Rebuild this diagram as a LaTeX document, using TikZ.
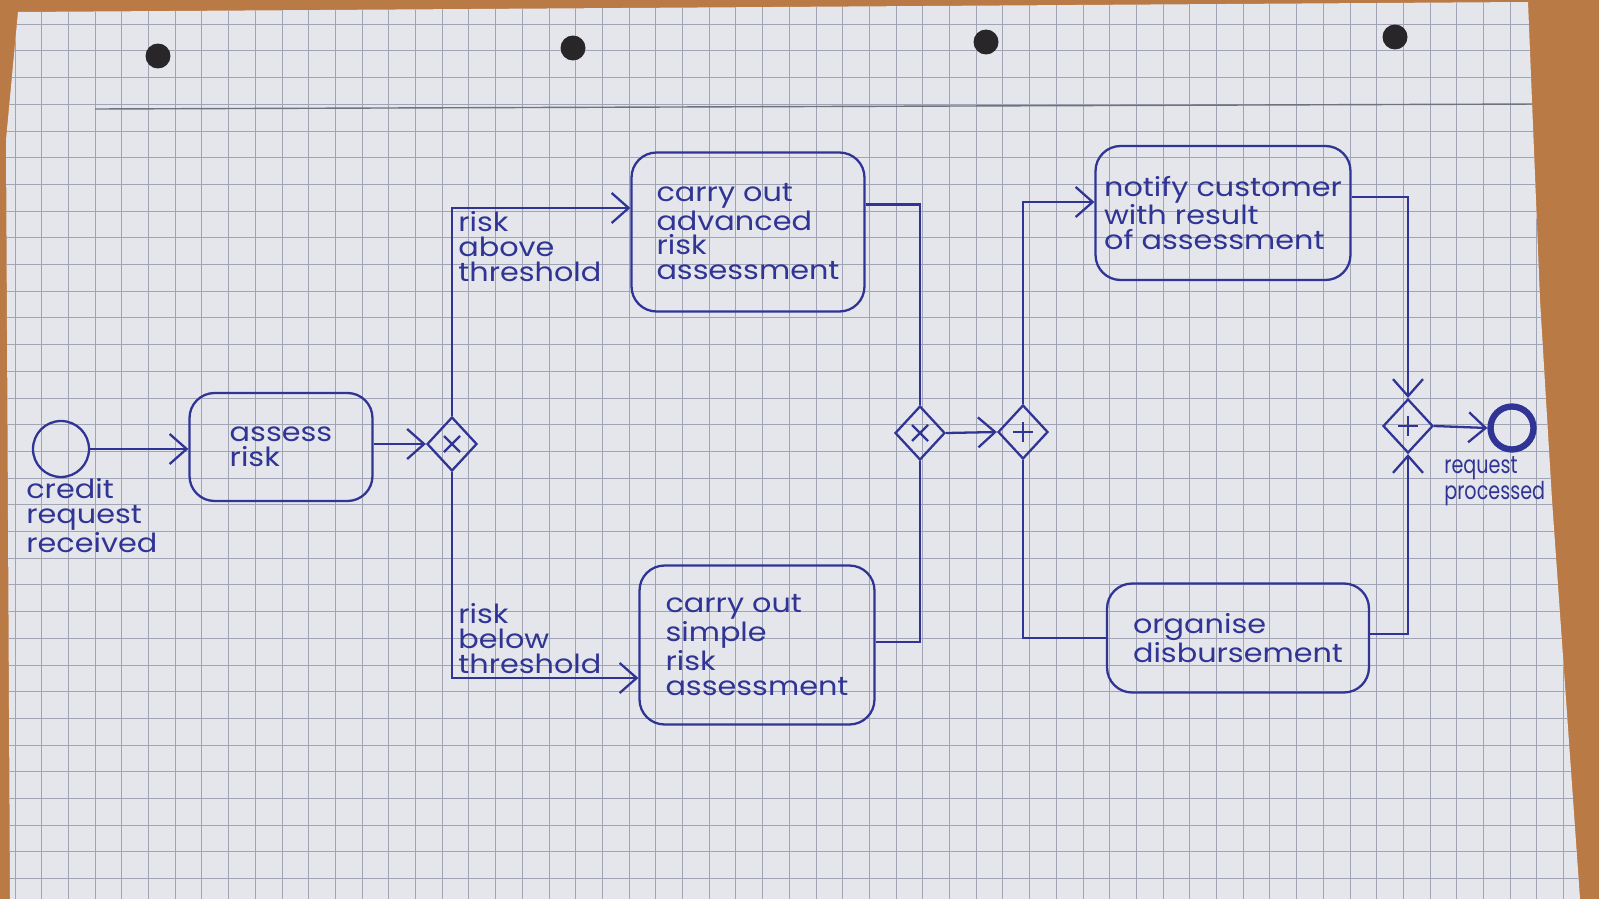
\documentclass[tikz,border=0pt]{standalone}
\usepackage{fontspec}
\setmainfont[FakeStretch=1.15]{Poppins}
\newfontfamily\narrowhand[FakeStretch=0.78]{Poppins}
\usetikzlibrary{shapes.geometric,arrows.meta}
\definecolor{ink}{RGB}{48,52,148}
\definecolor{paper}{RGB}{229,230,236}
\definecolor{gridc}{RGB}{160,164,180}
\definecolor{wood}{RGB}{185,122,69}
\definecolor{holec}{RGB}{40,38,40}
\newcommand\handfont{\fontsize{15}{14.2}\selectfont}
\newcommand\smallhand{\narrowhand\fontsize{14}{13.5}\selectfont}
\begin{document}
\begin{tikzpicture}[x=0.02cm,y=-0.02cm,
  inkline/.style={draw=ink, line width=1.3pt},
  task/.style={draw=ink, line width=1.3pt, rounded corners=0.5cm, align=left, text=ink, font=\handfont, inner sep=0pt},
  gw/.style={diamond, draw=ink, line width=1.3pt, inner sep=0pt, minimum width=1cm, minimum height=1.08cm},
  startevt/.style={circle, draw=ink, line width=1.3pt, inner sep=0pt, minimum size=1.12cm},
  endevt/.style={circle, draw=ink, line width=3.6pt, inner sep=0pt, minimum size=0.86cm},
  lbl/.style={text=ink, align=left, font=\handfont, inner sep=0pt},
  flow/.style={draw=ink, line width=1.3pt, -{Straight Barb[length=0.34cm,width=0.6cm,line width=1.3pt]}},
  seq/.style={draw=ink, line width=1.3pt},
  gridline/.style={draw=gridc, line width=0.5pt}]
\useasboundingbox (0,0) rectangle (1599,899);
% background: wood and paper
\fill[wood] (0,0) rectangle (1599,899);
\begin{scope}
\clip (18,12) -- (1528,2) -- (1540,300) -- (1552,500) -- (1580,899) -- (10,899) -- (6,140) -- cycle;
\fill[paper] (0,0) rectangle (1599,899);
\foreach \i in {0,...,60} \draw[gridline] ({15+26.7*\i},0) -- ({15+26.7*\i},899);
\foreach \j in {0,...,34} \draw[gridline] (0,{24.2+26.7*\j}) -- (1599,{24.2+26.7*\j});
\draw[draw=gridc!70!black, line width=0.8pt] (95,109) -- (1540,104);
\end{scope}
\foreach \p in {(158,56),(573,48),(986,42),(1395,37)} \fill[holec] \p circle (0.25cm);

% nodes
\node[startevt] (start) at (61,449) {};
\node[lbl, anchor=north west] (startlbl) at (26,478) {credit\\request\\received};
\node[task, minimum width=3.66cm, minimum height=2.16cm] (assess) at (281,447) {assess\\risk};
\node[gw] (gx1) at (452,444) {};
\draw[inkline] (gx1.center) +(-8,-8) -- +(8,8) +(-8,8) -- +(8,-8);
\node[task, minimum width=4.66cm, minimum height=3.18cm] (adv) at (748,232) {carry out\\advanced\\risk\\assessment};
\node[task, minimum width=4.7cm, minimum height=3.18cm] (simple) at (757,645) {carry out\\simple\\risk\\assessment};
\node[lbl, anchor=north west] (abovelbl) at (458,211) {risk\\above\\threshold};
\node[lbl, anchor=north west] (belowlbl) at (458,603) {risk\\below\\threshold};
\node[gw] (gx2) at (920,433) {};
\draw[inkline] (gx2.center) +(-8,-8) -- +(8,8) +(-8,8) -- +(8,-8);
\node[gw] (gp1) at (1023,432) {};
\draw[inkline] (gp1.center) +(-10,0) -- +(10,0) +(0,-10) -- +(0,10);
\node[task, minimum width=5.1cm, minimum height=2.68cm] (notify) at (1223,213) {notify customer\\with result\\of assessment};
\node[task, minimum width=5.24cm, minimum height=2.18cm] (organise) at (1238,638) {organise\\disbursement};
\node[gw] (gp2) at (1408,426) {};
\draw[inkline] (gp2.center) +(-10,0) -- +(10,0) +(0,-10) -- +(0,10);
\node[endevt] (end) at (1512,428) {};
\node[lbl, font=\smallhand, anchor=north west] (endlbl) at (1444,456) {request\\processed};

% connectors
\draw[flow] (start.east) -- (start.east -| assess.west);
\draw[flow] (assess.east |- gx1.west) -- (gx1.west);
\draw[flow] (gx1.north) |- ([yshift=0.48cm]adv.west);
\draw[flow] (gx1.south) |- ([yshift=-0.66cm]simple.west);
\draw[seq] ([yshift=0.55cm]adv.east) -| (gx2.north);
\draw[seq] ([yshift=0.06cm]simple.east) -| (gx2.south);
\draw[flow] (gx2.east) -- (gp1.west);
\draw[flow] (gp1.north) |- ([yshift=0.22cm]notify.west);
\draw[seq] (gp1.south) |- (organise.west);
\draw[flow] ([yshift=0.32cm]notify.east) -| (gp2.north);
\draw[flow] ([yshift=0.08cm]organise.east) -| (gp2.south);
\draw[flow] (gp2.east) -- (end.west);
\end{tikzpicture}
\end{document}
